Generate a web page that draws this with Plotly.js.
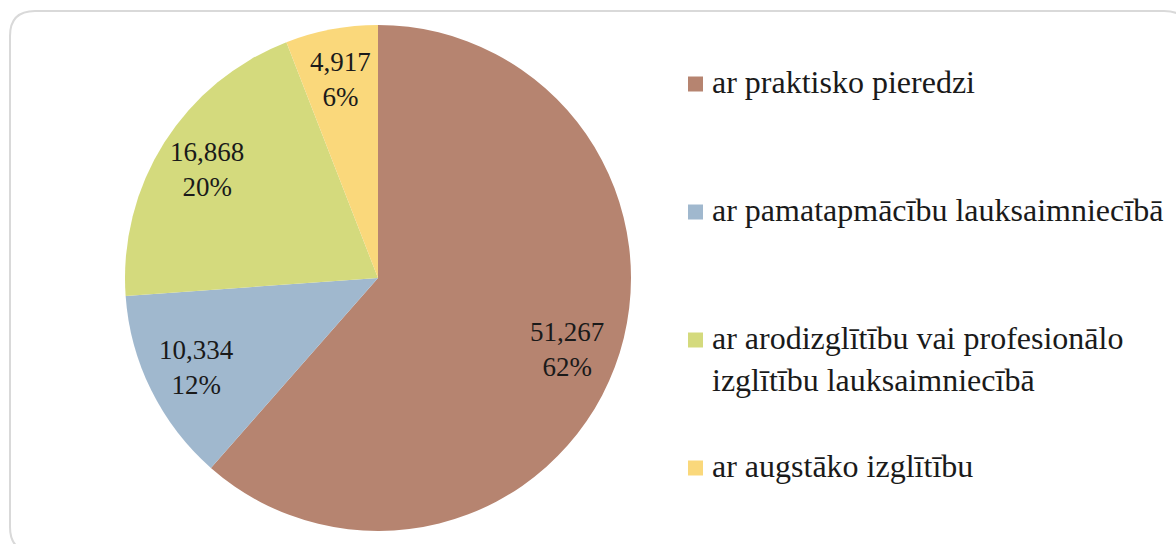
<!DOCTYPE html>
<html>
<head>
<meta charset="utf-8">
<script src="https://cdn.plot.ly/plotly-3.0.1.min.js"></script>
<style>
  html, body { margin: 0; padding: 0; background: #ffffff; }
  #chart { width: 1176px; height: 544px; }
</style>
</head>
<body>
<div id="chart"></div>
<script>
// ---- data ----
const categories = [
  "ar praktisko pieredzi",
  "ar pamatapmācību lauksaimniecībā",
  "ar arodizglītību vai profesionālo<br>izglītību lauksaimniecībā",
  "ar augstāko izglītību"
];
const values = [51267, 10334, 16868, 4917];
const percentLabels = ["62%", "12%", "20%", "6%"];
const colors = ["#B68470", "#A0B8CE", "#D4DA7D", "#FAD87B"];

// ---- layout constants ----
const W = 1176, H = 544;
const FONT = "serif";
const cx = 378, cy = 278, R = 253;            // pie centre & radius in px
const px2x = p => p / W;
const px2y = p => 1 - p / H;

// pie trace
const pie = {
  type: "pie",
  labels: categories,
  values: values,
  sort: false,
  direction: "clockwise",
  rotation: 0,
  marker: { colors: colors, line: { width: 0 } },
  textinfo: "none",
  hoverinfo: "label+value+percent",
  showlegend: false,
  domain: { x: [px2x(cx - R), px2x(cx + R)], y: [px2y(cy + R), px2y(cy - R)] }
};

// data labels placed along each slice's mid-angle (computed from the values)
const total = values.reduce((a, b) => a + b, 0);
const annotations = [];
let cum = 0;
values.forEach((v, i) => {
  const f = (cum + v / 2) / total;
  cum += v;
  const th = 2 * Math.PI * f;
  const k = 0.8;
  const x = cx + k * R * Math.sin(th);
  const y = cy - k * R * Math.cos(th);
  annotations.push({
    xref: "paper", yref: "paper",
    x: px2x(x), y: px2y(y),
    xanchor: "center", yanchor: "middle",
    showarrow: false,
    align: "center",
    text: v.toLocaleString("en-US") + "<br>" + percentLabels[i],
    font: { family: FONT, size: 27, color: "#1a1a1a" }
  });
});

// legend (markers + text)
const shapes = [];
const legX = 688, legMark = 15, legTextX = 711, legY0 = 84, legStep = 128, legFont = 32;
categories.forEach((c, i) => {
  const yc = legY0 + legStep * i;
  shapes.push({
    type: "rect", xref: "paper", yref: "paper",
    x0: px2x(legX), x1: px2x(legX + legMark),
    y0: px2y(yc - legMark / 2), y1: px2y(yc + legMark / 2),
    fillcolor: colors[i], line: { width: 0 }
  });
  annotations.push({
    xref: "paper", yref: "paper",
    x: px2x(legTextX), y: px2y(yc - legFont * 0.65),
    xanchor: "left", yanchor: "top",
    showarrow: false, align: "left",
    borderpad: 0,
    text: c,
    font: { family: FONT, size: legFont, color: "#1a1a1a" }
  });
});

// rounded frame
(function () {
  const x0 = 10, y0 = 11, x1 = 1189, y1 = 552, r = 25;
  const P = (x, y) => px2x(x) + "," + px2y(y);
  const path = "M" + P(x0 + r, y0) + " L" + P(x1 - r, y0) +
    " Q" + P(x1, y0) + " " + P(x1, y0 + r) +
    " L" + P(x1, y1 - r) + " Q" + P(x1, y1) + " " + P(x1 - r, y1) +
    " L" + P(x0 + r, y1) + " Q" + P(x0, y1) + " " + P(x0, y1 - r) +
    " L" + P(x0, y0 + r) + " Q" + P(x0, y0) + " " + P(x0 + r, y0) + " Z";
  shapes.push({
    type: "path", xref: "paper", yref: "paper", path: path,
    line: { color: "#D9D9D9", width: 2 }, fillcolor: "rgba(0,0,0,0)", layer: "below"
  });
})();

const layout = {
  width: W, height: H,
  margin: { l: 0, r: 0, t: 0, b: 0 },
  paper_bgcolor: "#ffffff",
  showlegend: false,
  font: { family: FONT, color: "#1a1a1a" },
  annotations: annotations,
  shapes: shapes
};

Plotly.newPlot("chart", [pie], layout, { displayModeBar: false, staticPlot: true });
</script>
</body>
</html>
